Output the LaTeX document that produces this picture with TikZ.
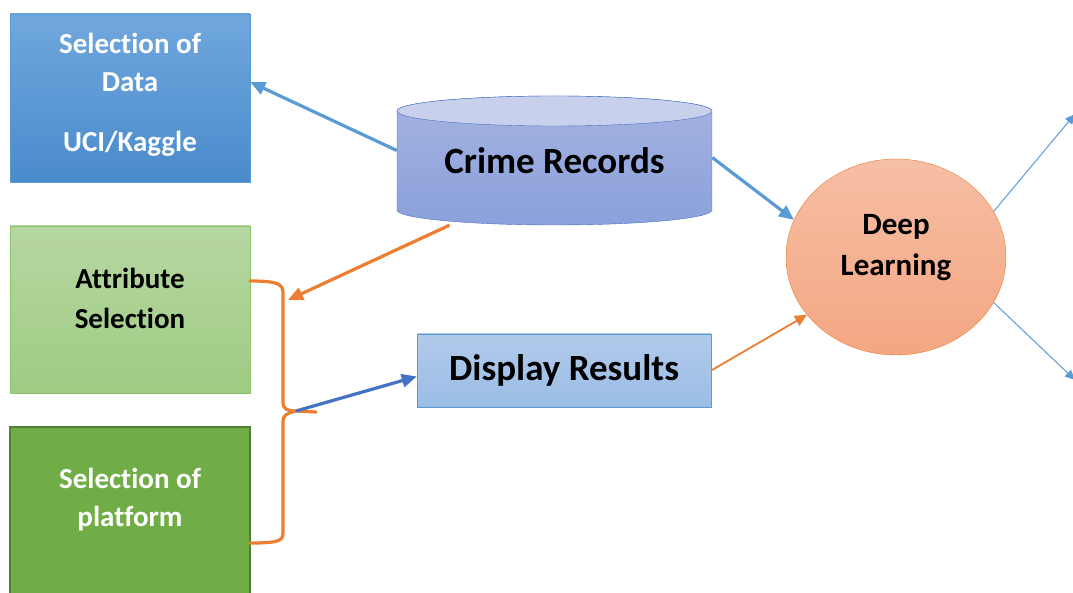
\documentclass[tikz,border=0pt]{standalone}
\usepackage{fontspec}
\setmainfont[Ligatures=NoCommon]{Carlito}
\usetikzlibrary{shapes.geometric}
\usetikzlibrary{positioning}
\usetikzlibrary{arrows.meta}
\definecolor{dataline}{HTML}{5B9BD5}
\definecolor{datatop}{HTML}{70A7DD}
\definecolor{databot}{HTML}{4A8BCC}
\definecolor{attrline}{HTML}{8DC26C}
\definecolor{attrtop}{HTML}{B6D7A1}
\definecolor{attrbot}{HTML}{9FCB83}
\definecolor{platline}{HTML}{507E32}
\definecolor{platfill}{HTML}{70AD47}
\definecolor{cylline}{HTML}{4472C4}
\definecolor{cyllid}{HTML}{C8D0EC}
\definecolor{cyltop}{HTML}{A4B2E0}
\definecolor{cylbot}{HTML}{8BA1DC}
\definecolor{disptop}{HTML}{B1CAEA}
\definecolor{dispbot}{HTML}{9BBDE6}
\definecolor{dlline}{HTML}{ED7D31}
\definecolor{dltop}{HTML}{F6BFA5}
\definecolor{dlbot}{HTML}{F4A682}
\definecolor{edgeorange}{HTML}{ED7D31}
\definecolor{edgeblue}{HTML}{5B9BD5}
\definecolor{edgedark}{HTML}{4472C4}
\tikzset{
    boxdata/.style = {rectangle, draw=dataline, top color=datatop, bottom color=databot, minimum width=240pt, minimum height=168pt},
    boxattr/.style = {rectangle, draw=attrline, top color=attrtop, bottom color=attrbot, minimum width=240pt, minimum height=167pt},
    boxplat/.style = {rectangle, draw=platline, line width=1.2pt, fill=platfill, minimum width=240pt, minimum height=176pt},
    boxdisp/.style = {rectangle, draw=dataline, top color=disptop, bottom color=dispbot, minimum width=294pt, minimum height=73pt, align=center, text=black, font=\bfseries\fontsize{37}{44}\selectfont},
    nodedl/.style = {ellipse, draw=dlline, top color=dltop, bottom color=dlbot, minimum width=220pt, minimum height=196pt},
    cylbody/.style = {draw=cylline, top color=cyltop, bottom color=cylbot},
    cyllid/.style = {draw=cylline, fill=cyllid},
    whitetext/.style = {align=center, text=white, font=\bfseries\fontsize{29}{38}\selectfont},
    blacktext/.style = {align=center, text=black, font=\bfseries\fontsize{29}{40}\selectfont},
    edgeb/.style = {-{Triangle[length=15pt,width=13pt]}, line width=3.2pt, edgeblue},
    edged/.style = {-{Triangle[length=15pt,width=13pt]}, line width=3.2pt, edgedark},
    edger/.style = {-{Triangle[length=15pt,width=13pt]}, line width=3.2pt, edgeorange},
    edgert/.style = {-{Triangle[length=12pt,width=11pt]}, line width=1.8pt, edgeorange},
    edgebt/.style = {-{Triangle[length=10pt,width=9pt]}, line width=1pt, edgeblue},
    bracelin/.style = {line width=3.2pt, edgeorange, line cap=round}
}
\begin{document}
\begin{tikzpicture}[x=1pt, y=-1pt]
  \useasboundingbox (0,0) rectangle (1073,593);

  \node[boxdata] (data) at (130,98) {};
  \node[whitetext] (datalbl) at (130,95) {Selection of\\Data\\[22pt]UCI/Kaggle};
  \node[boxattr] (attr) at (130,309.5) {};
  \node[blacktext] (attrlbl) at (130,298) {Attribute\\Selection};
  \node[boxplat] (plat) at (130,515) {};
  \node[whitetext] (platlbl) at (130,500) {Selection of\\platform};

  % crime records cylinder
  \path[cylbody] (397,111) -- (397,210) arc[start angle=180, end angle=360, x radius=157.5pt, y radius=15pt]
    -- (712,111) arc[start angle=0, end angle=180, x radius=157.5pt, y radius=15pt] -- cycle;
  \path[cyllid] (554.5,111) ellipse[x radius=157.5pt, y radius=15pt];
  \node[minimum width=315pt, minimum height=129pt, inner sep=0pt, font=\bfseries\fontsize{37}{44}\selectfont] (crime) at (554.5,160.5) {Crime Records};

  \node[boxdisp] (disp) at (564,370.5) {Display Results};
  \node[nodedl] (dl) at (896,257) {};
  \node[blacktext, font=\bfseries\fontsize{31}{41}\selectfont] (dllbl) at (896,248) {Deep\\Learning};

  % brace
  \draw[bracelin] (250,281) .. controls (278,281) and (283,284) .. (283,293) -- (283,402)
    .. controls (283,409) and (287,411) .. (296,411) -- (316,412);
  \draw[bracelin] (296,411) .. controls (287,413) and (283,415) .. (283,422) -- (283,533)
    .. controls (283,541) and (278,543) .. (250,543);
  \coordinate (tip) at (296,411);
  \coordinate (bracetop) at (288,300);
  \coordinate (outA) at (1075,114);
  \coordinate (outB) at (1075,380);

  \draw[edgeb] ([yshift=10pt]crime.west) -- ([yshift=16pt]data.east);
  \draw[edgeb] ([yshift=3pt]crime.east) -- (dl.160);
  \draw[edger] ([xshift=-105pt]crime.south) -- (bracetop);
  \draw[edged] (tip) -- ([yshift=-6pt]disp.west);
  \draw[edgert] (disp.east) -- (dl.213);
  \draw[edgebt] (dl.25) -- (outA);
  \draw[edgebt] (dl.-25) -- (outB);
\end{tikzpicture}
\end{document}
